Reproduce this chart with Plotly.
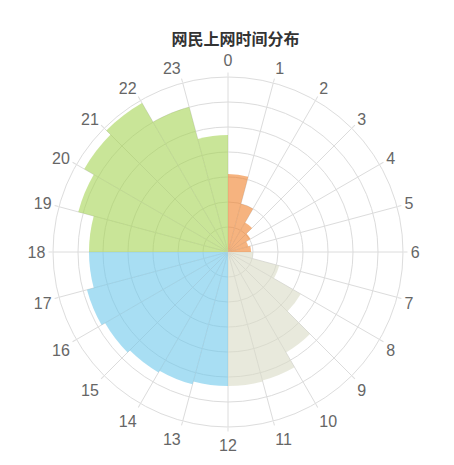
import plotly.graph_objects as go

hours = [str(h) for h in range(24)]
# values (arbitrary units; grid step = 50)
orange_vals = [156, 100, 68, 52, 42, 46]
beige_vals = [50, 106, 168, 232, 266, 268]
blue_vals = [268, 274, 278, 284, 292, 278]
green_vals = [278, 310, 332, 344, 300, 234]

groups = [
    (hours[0:6], orange_vals, "rgba(240,128,42,0.6)"),
    (hours[6:12], beige_vals, "rgba(216,218,196,0.6)"),
    (hours[12:18], blue_vals, "rgba(110,200,235,0.6)"),
    (hours[18:24], green_vals, "rgba(165,212,84,0.6)"),
]

fig = go.Figure()
for labels, vals, color in groups:
    fig.add_trace(go.Barpolar(
        r=vals,
        theta=[int(h) * 15 + 7.5 for h in labels],
        width=[15] * len(vals),
        marker=dict(color=color, line=dict(width=0)),
        hoverinfo="skip",
        showlegend=False,
    ))

W, H = 454, 465
cx, cy, R = 228, 252, 175
fig.update_layout(
    width=W, height=H,
    margin=dict(l=0, r=0, t=0, b=0),
    paper_bgcolor="white",
    plot_bgcolor="white",
    title=dict(text="<b>网民上网时间分布</b>", x=235.5 / W, xanchor="center",
               y=1 - 39 / H, yanchor="middle", yref="container",
               font=dict(family="Noto Sans CJK SC", size=16, color="#333")),
    polar=dict(
        domain=dict(x=[(cx - R) / W, (cx + R) / W], y=[(H - cy - R) / H, (H - cy + R) / H]),
        bgcolor="white",
        bargap=0,
        angularaxis=dict(
            direction="clockwise", rotation=90,
            tickmode="array", tickvals=[h * 15 for h in range(24)], ticktext=hours,
            tickfont=dict(family="Liberation Sans, Arial, sans-serif", size=16, color="#666"),
            ticks="outside", ticklen=4, tickcolor="#ddd",
            showline=True, linecolor="#ddd", linewidth=1,
            gridcolor="#dcdcdc", showgrid=True,
        ),
        radialaxis=dict(
            range=[0, 350], dtick=50, tick0=0,
            showticklabels=False, ticks="", showline=False,
            gridcolor="#dcdcdc", showgrid=True,
        ),
    ),
)

fig.write_html("out.html")
